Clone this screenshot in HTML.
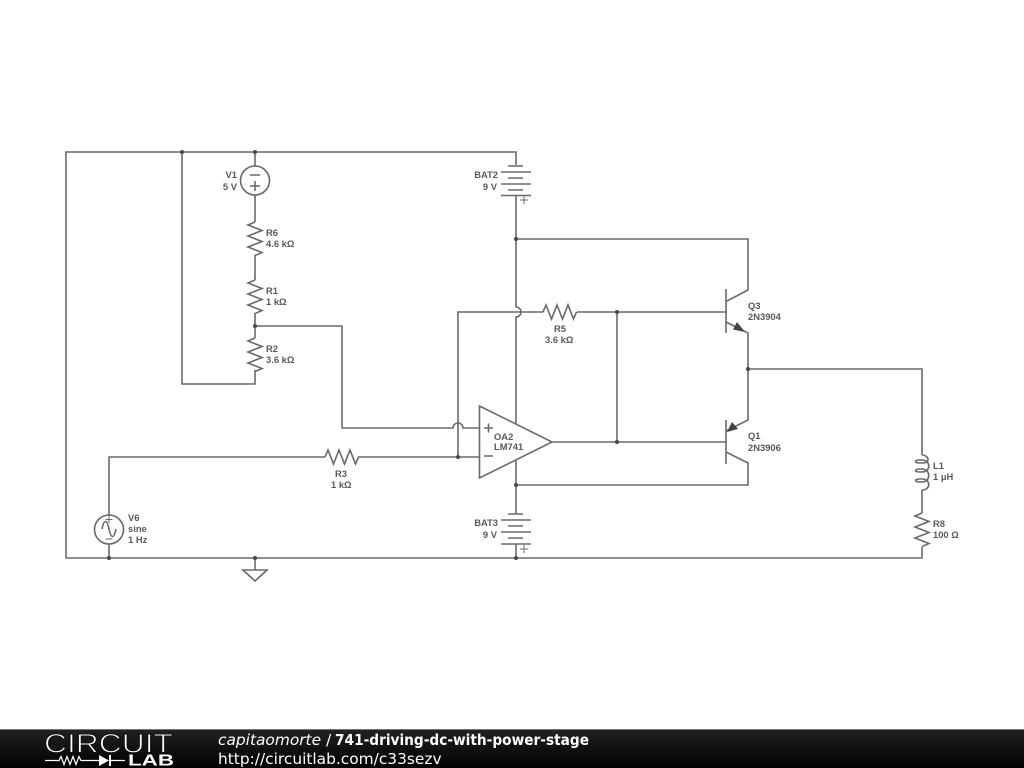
<!DOCTYPE html>
<html><head><meta charset="utf-8"><style>
html,body{margin:0;padding:0;background:#fff;width:1024px;height:768px;overflow:hidden}
svg{display:block;position:absolute;left:0;top:0}
.w{fill:none;stroke:#666c6c;stroke-width:1.6}
.j{fill:#444a4a}
text{font-family:"Liberation Sans",sans-serif;font-size:9.4px;font-weight:bold;fill:#555a5a}
.e{text-anchor:end}
.f{font-family:"DejaVu Sans",sans-serif;font-size:15.4px;font-weight:normal;fill:#fff}
</style></head><body>
<svg width="1024" height="768" viewBox="0 0 1024 768">
<defs>
<linearGradient id="g" x1="0" y1="0" x2="0" y2="1"><stop offset="0" stop-color="#222"/><stop offset="1" stop-color="#000"/></linearGradient>
</defs>
<!-- wires -->
<path class="w" d="M516 165V152H66V558H922V547"/>
<path class="w" d="M182 152V384H255V370"/>
<path class="w" d="M255 152V166M255 195V222M255 255V280M255 313V338"/>
<path class="w" d="M255 326H342V428H453a5 5 0 0 1 10 0H479"/>
<path class="w" d="M458 457V312H543M577 312H727"/>
<path class="w" d="M516 195V307a5 5 0 0 1 0 10V424"/>
<path class="w" d="M516 239H748V290L726 301.5"/>
<path class="w" d="M726 322L748 333V420L726 431"/>
<path class="w" d="M748 369H922V455M922 490V513"/>
<path class="w" d="M726 452L748 463V485H516"/>
<path class="w" d="M516 460V514M516 544V558"/>
<path class="w" d="M552 442H727M617 312V442"/>
<path class="w" d="M109 516V457H325M358 457H479M109 544V558"/>
<!-- transistor bars -->
<path class="w" d="M726 289V333M726 420V464"/>
<path d="M745 332L733 329.500L737 322Z" fill="#3f4545"/>
<path d="M727 432L732 422L738 429Z" fill="#3f4545"/>
<!-- resistors -->
<path class="w" d="M255 222l-7 3 14 5.500-14 5.500 14 5.500-14 5.500 14 5.500-7 3"/>
<path class="w" d="M255 280l-7 3 14 5.500-14 5.500 14 5.500-14 5.500 14 5.500-7 3"/>
<path class="w" d="M255 338l-7 3 14 5.500-14 5.500 14 5.500-14 5.500 14 5.500-7 3"/>
<path class="w" d="M922 513l-7 3 14 5.500-14 5.500 14 5.500-14 5.500 14 5.500-7 3"/>
<path class="w" d="M543 312l3-7 5.500 14 5.500-14 5.500 14 5.500-14 5.500 14 3-7"/>
<path class="w" d="M325 457l3-7 5.500 14 5.500-14 5.500 14 5.500-14 5.500 14 3-7"/>
<!-- inductor -->
<path class="w" d="M922 455C929 455 931 463 922 463H920C914 463 914 460 920 460H922C931 460 931 472 922 472H920C914 472 914 469 920 469H922C931 469 931 482 922 482H920C914 482 914 479 920 479H922C931 479 931 490 922 490"/>
<!-- sources -->
<circle class="w" cx="255" cy="180.500" r="14.500"/>
<path class="w" d="M250 175H260M250 186H260M255 181V191"/>
<circle class="w" cx="109" cy="529.500" r="14.500"/>
<path class="w" style="stroke-width:1" d="M105.500 519.500h7M109 516v7M105.500 539h7"/>
<path class="w" d="M102 529C104 519 107 519 109 529S114 539 116 529"/>
<!-- batteries -->
<path class="w" d="M508 166H523M501 172H531M508 178H523M501 184H531M508 190H523M501 195.500H531"/>
<path class="w" style="stroke-width:1" d="M520 200H528M524 196V204"/>
<path class="w" d="M508 514H523M501 520H531M508 526H523M501 532H531M508 538H523M501 544H531"/>
<path class="w" style="stroke-width:1" d="M520 549H528M524 545V553"/>
<!-- opamp -->
<path class="w" d="M479.500 406L552 442L479.500 478Z"/>
<path class="w" d="M484 428H493M488.500 423.500V432.500M484 456H493"/>
<!-- ground -->
<path class="w" d="M255 558V570M243 570H267L255 581Z"/>
<!-- junctions -->
<g class="j">
<circle cx="255" cy="152" r="2"/><circle cx="182" cy="152" r="2"/><circle cx="516" cy="239" r="2"/>
<circle cx="255" cy="326" r="2"/><circle cx="617" cy="312" r="2"/><circle cx="617" cy="442" r="2"/>
<circle cx="458" cy="457" r="2"/><circle cx="516" cy="485" r="2"/><circle cx="748" cy="369" r="2"/>
<circle cx="109" cy="558" r="2"/><circle cx="255" cy="558" r="2"/><circle cx="516" cy="558" r="2"/>
</g>
<!-- labels -->
<text class="e" x="237" y="178">V1</text><text class="e" x="237" y="190">5 V</text>
<text x="266" y="236">R6</text><text x="266" y="247">4.6 kΩ</text>
<text x="266" y="294">R1</text><text x="266" y="305">1 kΩ</text>
<text x="266" y="352">R2</text><text x="266" y="363">3.6 kΩ</text>
<text class="e" x="498" y="178">BAT2</text><text class="e" x="497" y="190">9 V</text>
<text class="e" x="498" y="526">BAT3</text><text class="e" x="497" y="538">9 V</text>
<text x="554" y="332">R5</text><text x="545" y="343">3.6 kΩ</text>
<text x="335" y="477">R3</text><text x="331" y="488">1 kΩ</text>
<text x="494" y="440">OA2</text><text x="494" y="450">LM741</text>
<text x="748" y="309">Q3</text><text x="748" y="320">2N3904</text>
<text x="748" y="439">Q1</text><text x="748" y="451">2N3906</text>
<text x="128" y="521">V6</text><text x="128" y="532">sine</text><text x="128" y="543">1 Hz</text>
<text x="933" y="469">L1</text><text x="933" y="480">1 μH</text>
<text x="933" y="527">R8</text><text x="933" y="538">100 Ω</text>
<!-- footer -->
<rect x="0" y="729" width="1024" height="39" fill="url(#g)"/>
<rect x="0" y="729" width="1024" height="1" fill="#777"/>
<text x="44" y="752.500" textLength="129" lengthAdjust="spacingAndGlyphs" style="font-size:27px;font-weight:normal;fill:#fff;stroke:#111;stroke-width:1">CIRCUIT</text>
<path d="M45 760.500H59l2-4 3 8 3-8 3 8 3-8 3 8 3-8 2 4H99M125 760.500H109" fill="none" stroke="#fff" stroke-width="1.200"/>
<path d="M99 755V766L109 760.500Z M109 755H111V766H109Z" fill="#fff"/>
<text x="128" y="765.500" textLength="46" lengthAdjust="spacingAndGlyphs" style="font-size:16px;font-weight:bold;fill:#fff">LAB</text>
<text class="f" x="218" y="745"><tspan font-style="italic">capitaomorte</tspan> /</text>
<text class="f" x="335" y="745" textLength="254" lengthAdjust="spacingAndGlyphs" font-weight="bold" style="font-weight:bold">741-driving-dc-with-power-stage</text>
<text class="f" x="218" y="764">http://circuitlab.com/c33sezv</text>
</svg>
</body></html>
